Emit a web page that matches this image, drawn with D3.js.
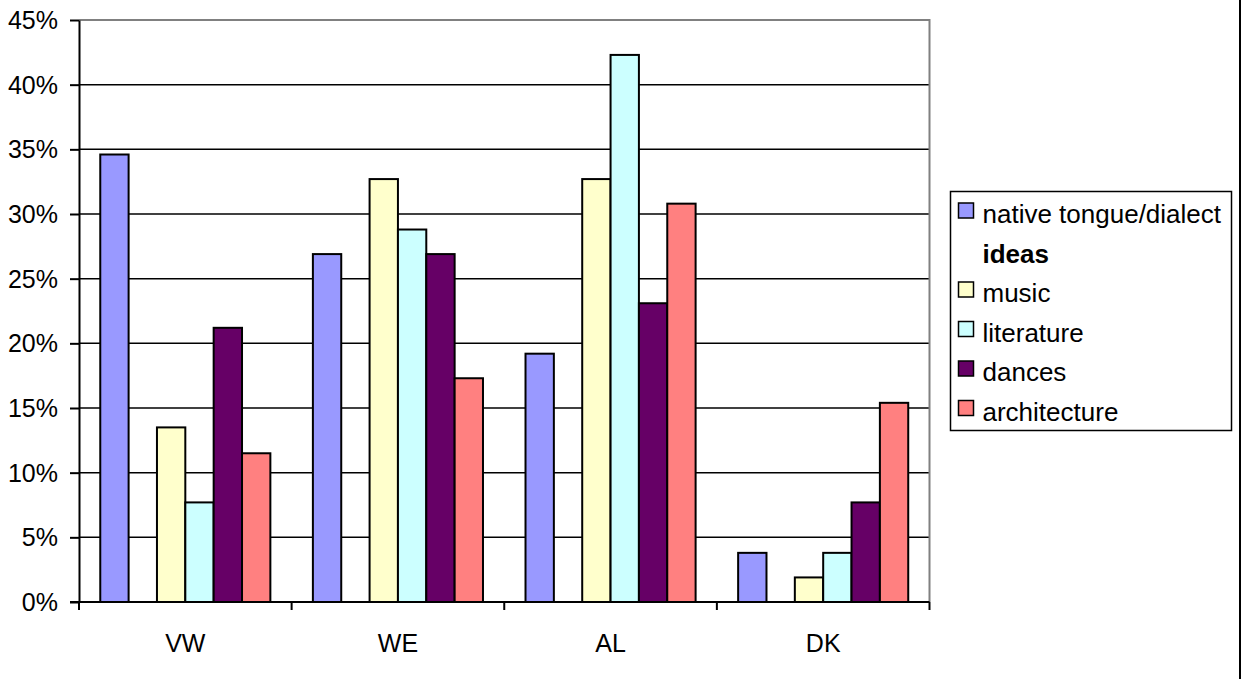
<!DOCTYPE html>
<html>
<head>
<meta charset="utf-8">
<script src="https://cdn.jsdelivr.net/npm/d3@7"></script>
<style>
  html, body { margin: 0; padding: 0; background: #fff; }
  svg { display: block; font-family: "Liberation Sans", Arial, sans-serif; }
</style>
</head>
<body>
<svg id="chart" width="1249" height="679"></svg>
<script>
// ---- data ----
const categories = ["VW", "WE", "AL", "DK"];
const seriesNames = ["native tongue/dialect", "ideas", "music", "literature", "dances", "architecture"];
const nativeTongue = [0.346, 0.269, 0.192, 0.038];
const ideas = [null, null, null, null];
const music = [0.135, 0.327, 0.327, 0.019];
const literature = [0.077, 0.288, 0.423, 0.038];
const dances = [0.212, 0.269, 0.231, 0.077];
const architecture = [0.115, 0.173, 0.308, 0.154];
const seriesColors = ["#9999FF", null, "#FFFFCC", "#CCFFFF", "#660066", "#FF8080"];
const yTicks = [0, 0.05, 0.10, 0.15, 0.20, 0.25, 0.30, 0.35, 0.40, 0.45];

const seriesValues = [nativeTongue, ideas, music, literature, dances, architecture];
const series = seriesNames.map((name, i) => ({ name, values: seriesValues[i], color: seriesColors[i] }));

// ---- layout ----
const svg = d3.select("#chart");
const plotLeft = 79, plotRight = 929.5, plotTop = 20, plotBottom = 602;

const x0 = d3.scaleBand().domain(categories).range([plotLeft, plotRight]).paddingInner(0).paddingOuter(0);
const x1 = d3.scaleBand().domain(seriesNames).range([0, x0.bandwidth()]).paddingInner(0).paddingOuter(0.75);
const y = d3.scaleLinear().domain([0, 0.45]).range([plotBottom, plotTop]);

// gridlines
svg.append("g")
  .selectAll("line")
  .data(yTicks.filter(t => t > 0 && t < 0.45))
  .join("line")
  .attr("x1", plotLeft).attr("x2", plotRight)
  .attr("y1", d => y(d)).attr("y2", d => y(d))
  .attr("stroke", "#000").attr("stroke-width", 1.5);

// plot border (top & right) gray
svg.append("path")
  .attr("d", `M${plotLeft},${y(0.45)}H${plotRight}V${plotBottom}`)
  .attr("fill", "none").attr("stroke", "#808080").attr("stroke-width", 2);

// bars
const groups = svg.append("g").selectAll("g")
  .data(categories)
  .join("g")
  .attr("transform", d => `translate(${x0(d)},0)`);

groups.selectAll("rect")
  .data((c, ci) => series.filter(s => s.values[ci] != null).map(s => ({ name: s.name, value: s.values[ci], color: s.color })))
  .join("rect")
  .attr("x", d => x1(d.name))
  .attr("width", x1.bandwidth())
  .attr("y", d => y(d.value))
  .attr("height", d => y(0) - y(d.value))
  .attr("fill", d => d.color)
  .attr("stroke", "#000")
  .attr("stroke-width", 2);

// y axis
const yAxis = d3.axisLeft(y).tickValues(yTicks).tickFormat(d3.format(".0%")).tickSize(9).tickSizeOuter(0);
const gy = svg.append("g").attr("transform", `translate(${plotLeft},0)`).call(yAxis);
gy.select(".domain").attr("stroke", "#000").attr("stroke-width", 2);
gy.selectAll(".tick line").attr("stroke", "#000").attr("stroke-width", 2);
gy.selectAll(".tick text").attr("font-size", 25).attr("fill", "#000").attr("x", -21).attr("dy", "0.34em")
  .style("font-family", "'Liberation Sans', Arial, sans-serif");

// x axis
const xAxis = d3.axisBottom(x0).tickSize(0).tickSizeOuter(0);
const gx = svg.append("g").attr("transform", `translate(0,${plotBottom})`).call(xAxis);
gx.select(".domain").attr("stroke", "#000").attr("stroke-width", 2).attr("d", `M${plotLeft - 9},0H${plotRight}`);
gx.selectAll(".tick text").attr("font-size", 25).attr("fill", "#000").attr("y", 50).attr("dy", 0)
  .style("font-family", "'Liberation Sans', Arial, sans-serif");

// category boundary ticks
const boundaries = categories.map(c => x0(c)).concat([plotRight]);
svg.append("g").selectAll("line")
  .data(boundaries)
  .join("line")
  .attr("x1", d => d).attr("x2", d => d)
  .attr("y1", plotBottom).attr("y2", plotBottom + 8)
  .attr("stroke", "#000").attr("stroke-width", 2);

// legend
const lg = svg.append("g").attr("transform", "translate(950.5,191.5)");
lg.append("rect").attr("width", 281).attr("height", 239)
  .attr("fill", "#fff").attr("stroke", "#000").attr("stroke-width", 1.5);
const items = lg.selectAll("g.item")
  .data(series)
  .join("g")
  .attr("class", "item")
  .attr("transform", (d, i) => `translate(0,${31.5 + i * 39.5})`);
items.filter(d => d.color)
  .append("rect")
  .attr("x", 8).attr("y", -20)
  .attr("width", 15).attr("height", 15)
  .attr("fill", d => d.color)
  .attr("stroke", "#000").attr("stroke-width", 1.5);
items.append("text")
  .attr("x", 32).attr("y", 0)
  .attr("font-size", 26)
  .attr("font-weight", d => d.color ? "normal" : "bold")
  .attr("fill", "#000")
  .text(d => d.name);

// outer right border
svg.append("line")
  .attr("x1", 1240).attr("x2", 1240).attr("y1", 0).attr("y2", 679)
  .attr("stroke", "#000").attr("stroke-width", 2);
</script>
</body>
</html>
